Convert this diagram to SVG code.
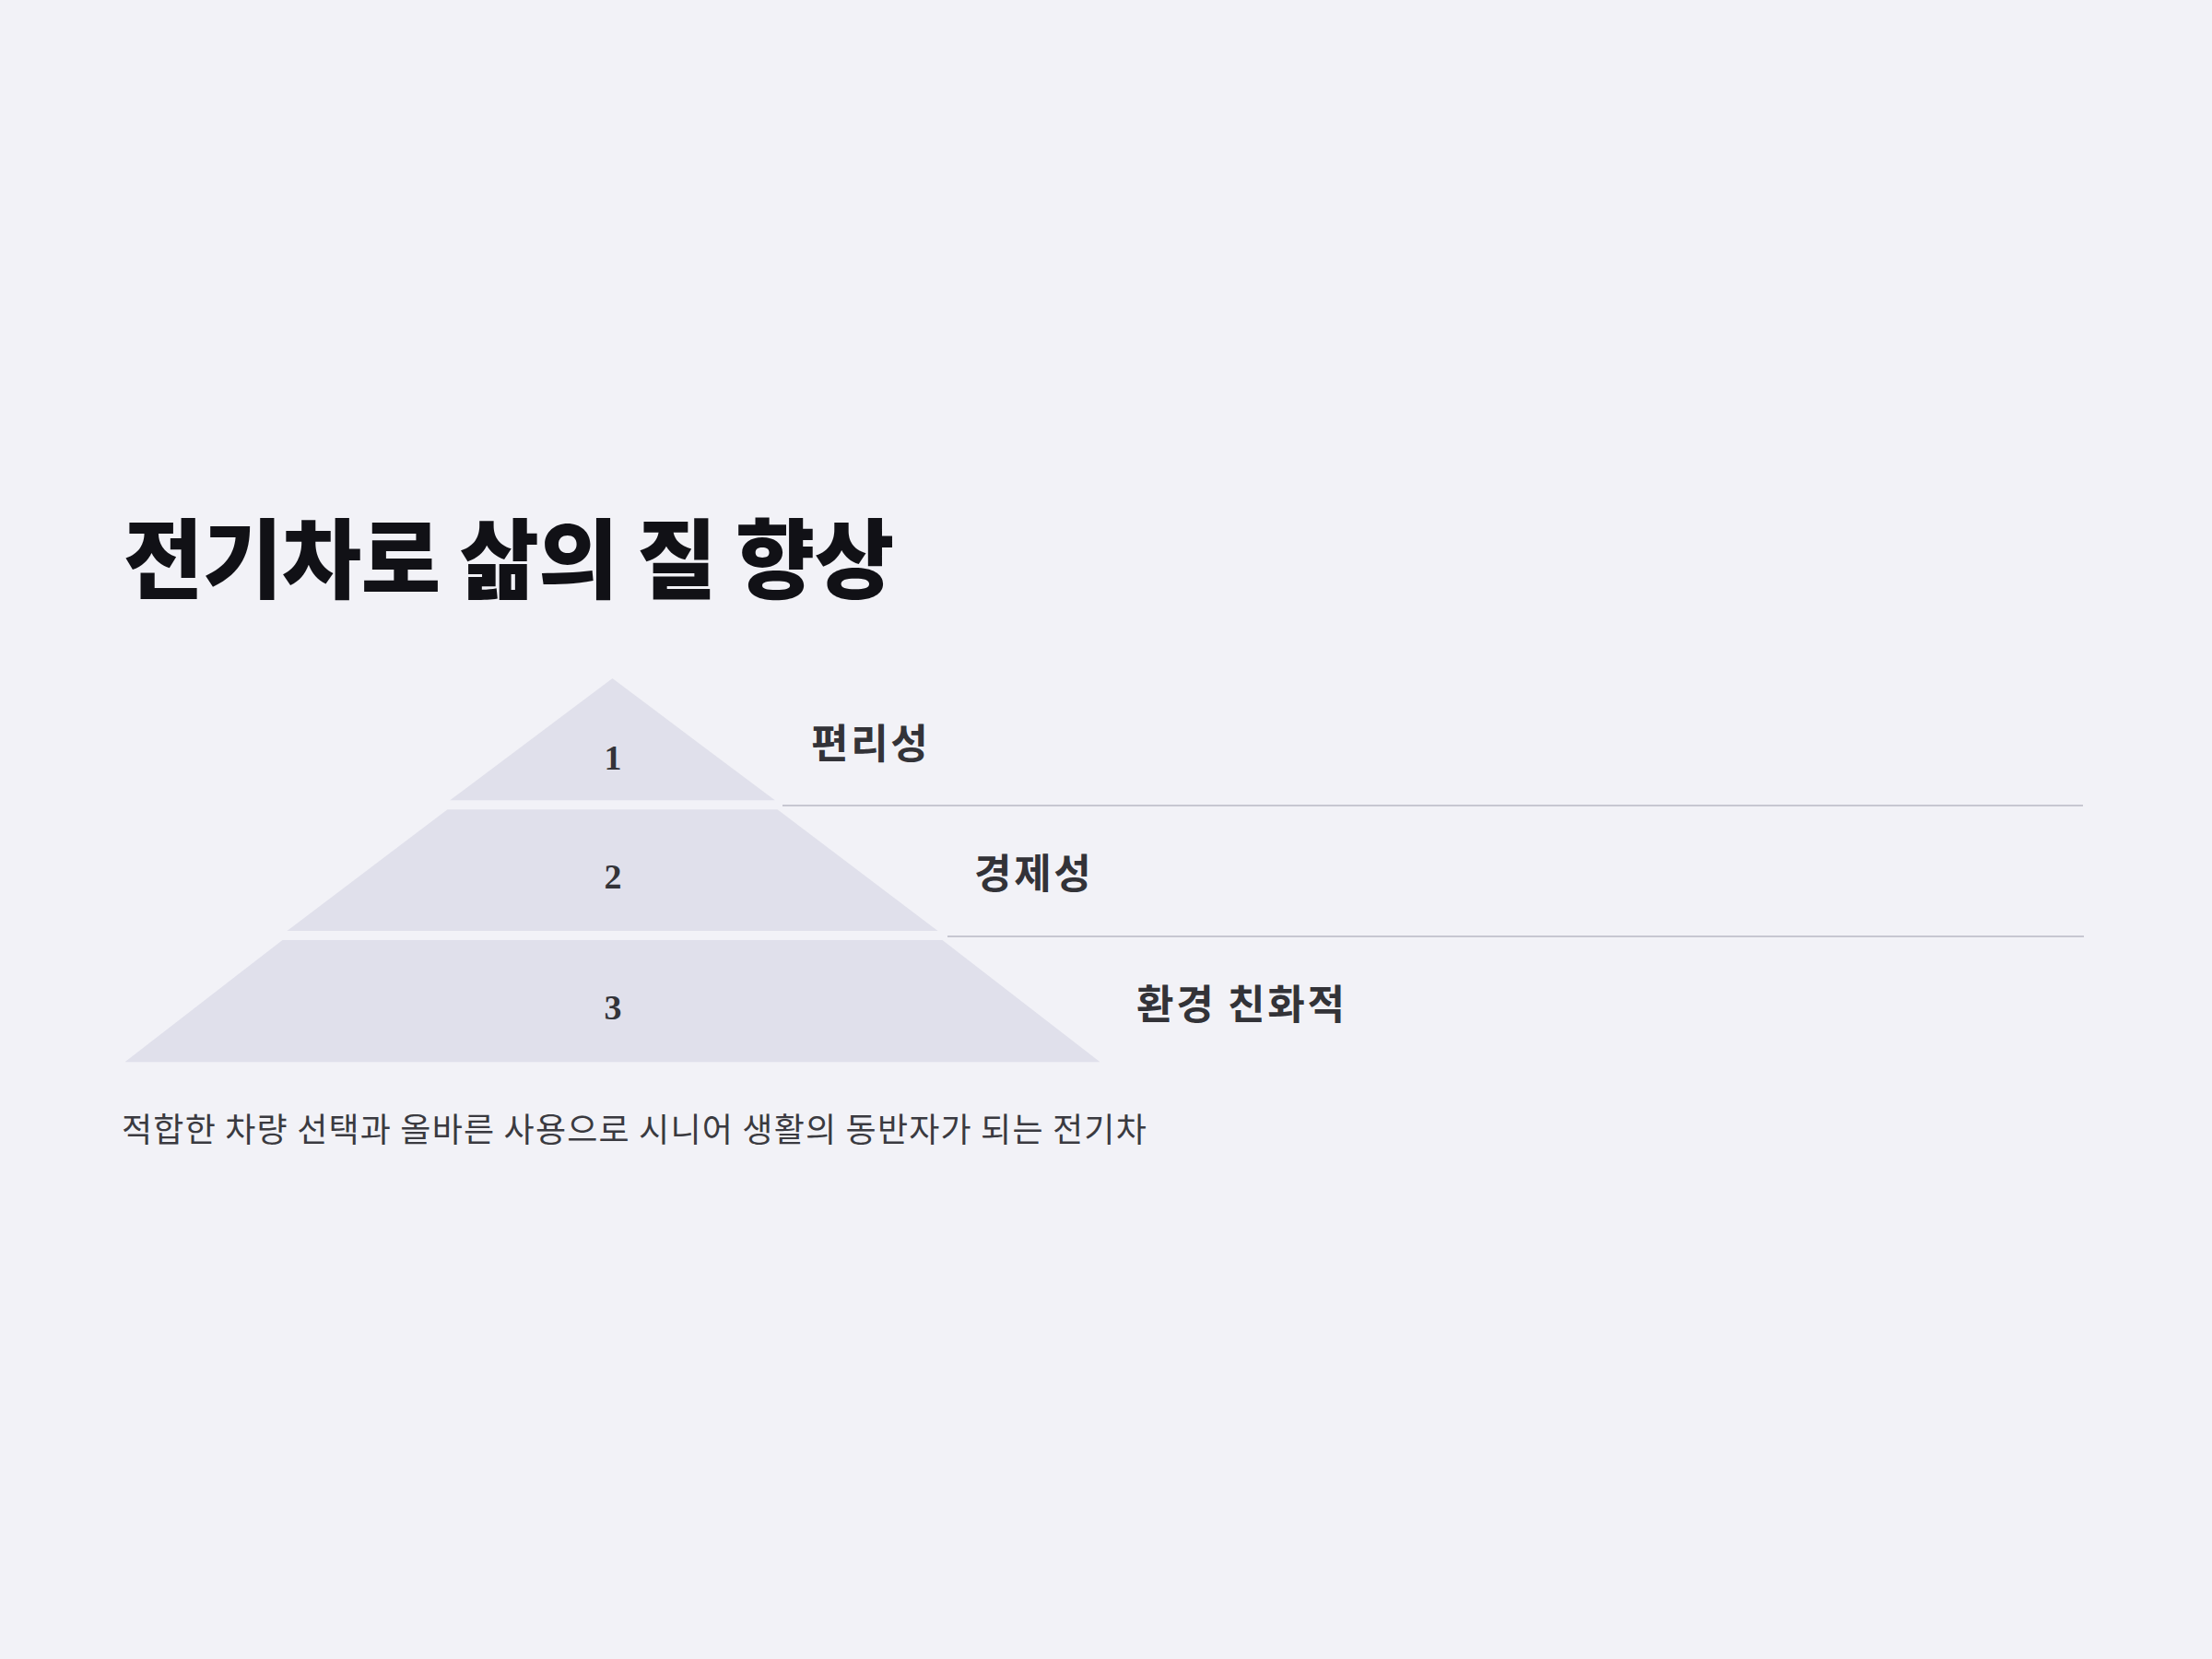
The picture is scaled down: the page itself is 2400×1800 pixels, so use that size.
<svg xmlns="http://www.w3.org/2000/svg" width="2400" height="1800" viewBox="0 0 2400 1800">
  <style>
    .tier { fill: #e0e0eb; }
    .rule { stroke: #c7c7d1; stroke-width: 2; fill: none; }
    .title { font-family: "Noto Sans CJK KR", "Noto Sans", sans-serif; font-weight: 800; font-size: 94px; fill: #111116; letter-spacing: -0.6px; }
    .label { font-family: "Noto Sans CJK KR", "Noto Sans", sans-serif; font-weight: 700; font-size: 44px; fill: #333338; letter-spacing: 2.7px; }
    .num { font-family: "Liberation Serif", "DejaVu Serif", serif; font-weight: 700; font-size: 38px; fill: #333338; text-anchor: middle; }
    .sub { font-family: "Noto Sans CJK KR", "Noto Sans", sans-serif; font-weight: 400; font-size: 36px; fill: #3a3a40; letter-spacing: 1.2px; }
  </style>
  <rect x="0" y="0" width="2400" height="1800" fill="#f2f2f7"/>

  <g id="title">
    <text class="title" x="134" y="642">전기차로 삶의 질 향상</text>
  </g>

  <g id="connectors">
    <line class="rule" x1="849" y1="874" x2="2260" y2="874"/>
    <line class="rule" x1="1028" y1="1016" x2="2261" y2="1016"/>
  </g>

  <g id="tier-1">
    <polygon class="tier" points="664.5,736 840.8,868.3 488.2,868.3"/>
    <text class="num" x="665" y="835">1</text>
    <text class="label" x="880" y="823">편리성</text>
  </g>

  <g id="tier-2">
    <polygon class="tier" points="485.5,878.3 843.5,878.3 1017.5,1010 311.5,1010"/>
    <text class="num" x="665" y="964">2</text>
    <text class="label" x="1057" y="964">경제성</text>
  </g>

  <g id="tier-3">
    <polygon class="tier" points="306.5,1020 1022.5,1020 1193.5,1152.3 135.5,1152.3"/>
    <text class="num" x="665" y="1106">3</text>
    <text class="label" x="1233" y="1106">환경 친화적</text>
  </g>

  <g id="subtitle">
    <text class="sub" x="132" y="1239">적합한 차량 선택과 올바른 사용으로 시니어 생활의 동반자가 되는 전기차</text>
  </g>
</svg>
